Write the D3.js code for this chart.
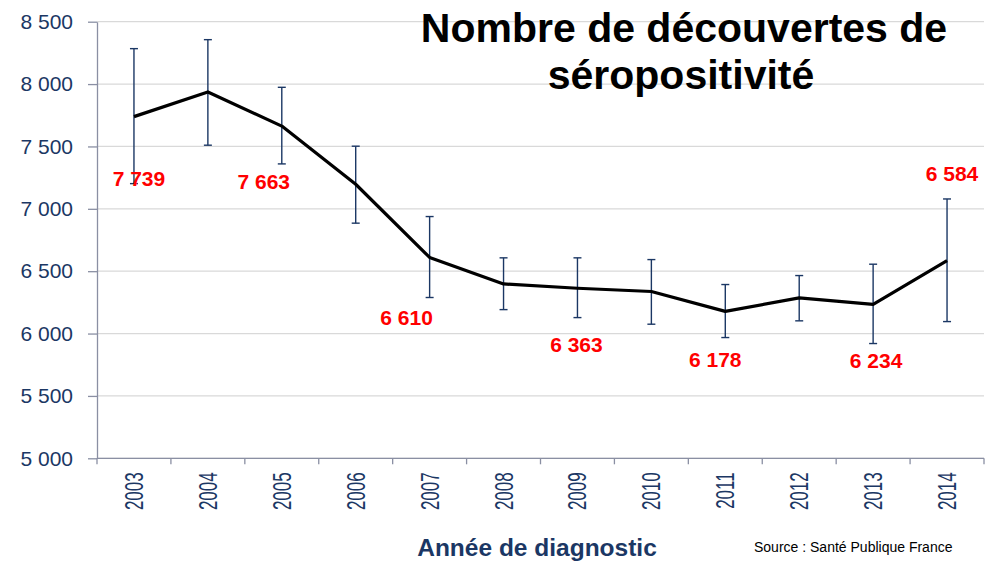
<!DOCTYPE html>
<html>
<head>
<meta charset="utf-8">
<script src="https://cdn.jsdelivr.net/npm/d3@7"></script>
<style>
    body { margin: 0; background: #fff; }
    svg { display: block; font-family: "Liberation Sans", Arial, sans-serif; }
</style>
</head>
<body>
<svg id="chart" width="993" height="561"></svg>
<script>
// Data
const years = ['2003', '2004', '2005', '2006', '2007', '2008', '2009', '2010', '2011', '2012', '2013', '2014'];
const cases = [7739, 7937, 7663, 7197, 6610, 6398, 6363, 6337, 6178, 6286, 6234, 6584];
const lowBound = [7202, 7510, 7360, 6885, 6289, 6192, 6128, 6075, 5968, 6102, 5920, 6096];
const highBound = [8284, 8356, 7974, 7502, 6938, 6607, 6607, 6593, 6393, 6465, 6556, 7079];
const labelled = ['2003', '2005', '2007', '2009', '2011', '2013', '2014'];
const yTicks = [5000, 5500, 6000, 6500, 7000, 7500, 8000, 8500];

// label offsets from the point (dx, baseline dy), as placed in the original
const labelOffsets = {
    '2003': [5, 69], '2005': [-18, 63], '2007': [-23, 68], '2009': [-1, 64],
    '2011': [-10, 56], '2013': [3, 64], '2014': [5, -80]
};

const navy = '#1b3764';
const svg = d3.select('#chart');
const margin = {top: 21.7, right: 9, bottom: 102.7, left: 97};
const width = +svg.attr('width') - margin.left - margin.right;
const height = +svg.attr('height') - margin.top - margin.bottom;

const fr = d3.formatLocale({decimal: ',', thousands: ' ', grouping: [3], currency: ['', ' €']});
const fmt = fr.format(',d');

const g = svg.append('g')
    .attr('transform', `translate(${margin.left},${margin.top})`);

const x = d3.scaleBand()
    .domain(years)
    .range([0, width])
    .padding(0);

const y = d3.scaleLinear()
    .domain([5000, 8500])
    .range([height, 0]);

const cx = d => x(d) + x.bandwidth() / 2;

// gridlines
g.selectAll('.grid')
    .data(yTicks)
    .enter().append('line')
    .attr('class', 'grid')
    .attr('x1', 0)
    .attr('x2', width)
    .attr('y1', d => y(d))
    .attr('y2', d => y(d))
    .attr('stroke', '#d9d9d9')
    .attr('stroke-width', 1.2);

// Y axis
const yAxis = d3.axisLeft(y)
    .tickValues(yTicks)
    .tickFormat(fmt)
    .tickSize(9)
    .tickSizeOuter(0)
    .tickPadding(15);

g.append('g')
    .attr('class', 'y-axis')
    .call(yAxis)
    .call(a => a.select('.domain').attr('stroke', '#8a8fa3').attr('stroke-width', 1.3))
    .call(a => a.selectAll('.tick line').attr('stroke', '#8a8fa3').attr('stroke-width', 1.3))
    .call(a => a.selectAll('.tick text')
        .attr('fill', navy)
        .attr('font-size', 21)
        .attr('font-family', '"Liberation Sans", Arial, sans-serif'));

// X axis: line and ticks at the band edges
const edges = years.map(d => x(d)).concat([width]);
const xAxisG = g.append('g')
    .attr('class', 'x-axis')
    .attr('transform', `translate(0,${height})`);

xAxisG.append('line')
    .attr('x1', 0)
    .attr('x2', width)
    .attr('stroke', '#8a8fa3')
    .attr('stroke-width', 1.3);

xAxisG.selectAll('.edge')
    .data(edges)
    .enter().append('line')
    .attr('class', 'edge')
    .attr('x1', d => d)
    .attr('x2', d => d)
    .attr('y1', 0)
    .attr('y2', 6)
    .attr('stroke', '#8a8fa3')
    .attr('stroke-width', 1.3);

xAxisG.selectAll('.year')
    .data(years)
    .enter().append('text')
    .attr('class', 'year')
    .attr('transform', d => `translate(${cx(d)},14) rotate(-90) scale(0.68,1)`)
    .attr('text-anchor', 'end')
    .attr('dy', '0.36em')
    .attr('fill', navy)
    .attr('font-size', 25)
    .text(d => d);

// error bars
const errData = years.map((d, i) => ({year: d, lo: lowBound[i], hi: highBound[i]}));
const errG = g.selectAll('.err')
    .data(errData)
    .enter().append('g')
    .attr('class', 'err')
    .attr('stroke', navy)
    .attr('stroke-width', 1.4);

errG.append('line')
    .attr('x1', d => cx(d.year))
    .attr('x2', d => cx(d.year))
    .attr('y1', d => y(d.lo))
    .attr('y2', d => y(d.hi));

errG.append('line')
    .attr('x1', d => cx(d.year) - 4)
    .attr('x2', d => cx(d.year) + 4)
    .attr('y1', d => y(d.hi))
    .attr('y2', d => y(d.hi));

errG.append('line')
    .attr('x1', d => cx(d.year) - 4)
    .attr('x2', d => cx(d.year) + 4)
    .attr('y1', d => y(d.lo))
    .attr('y2', d => y(d.lo));

// line
const data = years.map((d, i) => ({year: d, value: cases[i]}));
const line = d3.line()
    .x(d => cx(d.year))
    .y(d => y(d.value));

g.append('path')
    .datum(data)
    .attr('fill', 'none')
    .attr('stroke', '#000')
    .attr('stroke-width', 3.2)
    .attr('stroke-linejoin', 'round')
    .attr('d', line);

// value labels
g.selectAll('.val')
    .data(data.filter(d => labelled.includes(d.year)))
    .enter().append('text')
    .attr('class', 'val')
    .attr('x', d => cx(d.year) + labelOffsets[d.year][0])
    .attr('y', d => y(d.value) + labelOffsets[d.year][1])
    .attr('text-anchor', 'middle')
    .attr('fill', '#ff0000')
    .attr('font-weight', 'bold')
    .attr('font-size', 21)
    .text(d => fmt(d.value));

// title
const title = svg.append('text')
    .attr('x', 684)
    .attr('y', 42)
    .attr('text-anchor', 'middle')
    .attr('font-weight', 'bold')
    .attr('font-size', 41)
    .attr('fill', '#000');
title.append('tspan').attr('x', 684).text('Nombre de découvertes de');
title.append('tspan').attr('x', 681).attr('dy', 47).text('séropositivité');

// axis title and source
svg.append('text')
    .attr('x', 537)
    .attr('y', 556)
    .attr('text-anchor', 'middle')
    .attr('font-weight', 'bold')
    .attr('font-size', 24.5)
    .attr('fill', navy)
    .text('Année de diagnostic');

svg.append('text')
    .attr('x', 754)
    .attr('y', 552)
    .attr('font-size', 14)
    .attr('fill', '#000')
    .text('Source : Santé Publique France');
</script>
</body>
</html>
